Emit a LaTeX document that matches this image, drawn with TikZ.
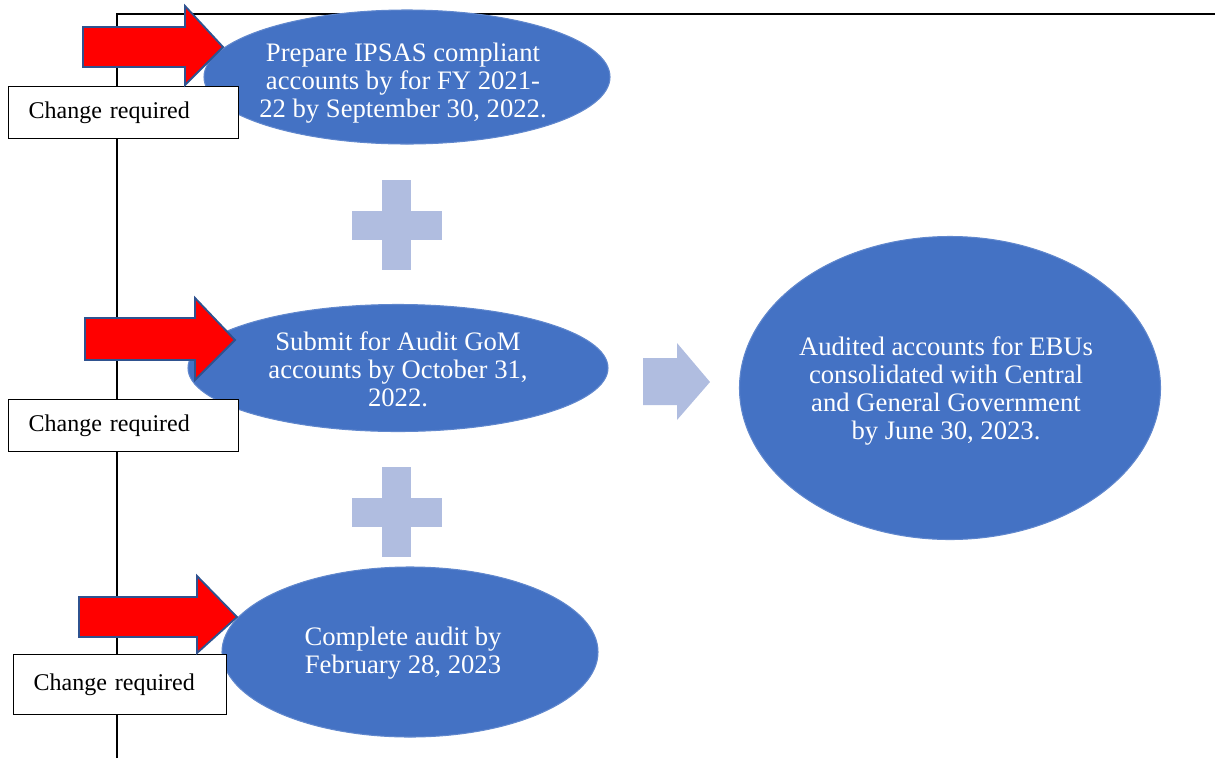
\documentclass[tikz,border=0pt]{standalone}
\usepackage{fontspec}
\setmainfont{Liberation Serif}
\definecolor{ovalblue}{RGB}{68,114,196}
\definecolor{paleblue}{RGB}{176,189,224}
\definecolor{arrowedge}{RGB}{47,82,143}
\tikzset{
  oval/.style={ellipse, fill=ovalblue, draw=ovalblue!85!white, line width=0.8pt, inner sep=0pt},
  ovaltext/.style={text=white, align=center, font=\fontsize{20}{21}\selectfont},
  notebox/.style={draw=black, line width=0.9pt, fill=white, minimum height=52*0.75pt,
    inner xsep=15pt, align=left, font=\fontsize{18}{20}\selectfont, anchor=north west},
  redarrow/.style={fill=red, draw=arrowedge, line width=1.4pt, line join=miter},
  plusmark/.style={fill=paleblue, draw=none},
  spine/.style={draw=black, line width=1.2pt}
}
\usetikzlibrary{shapes.geometric}
\begin{document}
\begin{tikzpicture}[x=0.75pt, y=-0.75pt]
\useasboundingbox (0,0) rectangle (1215,758);

% frame lines
\coordinate (topL) at (117,14);
\coordinate (topR) at (1215,14);
\coordinate (botL) at (117,758);
\draw[spine] (botL) -- (topL) -- (topR);

% ovals
\node[oval, minimum width=406*0.75pt, minimum height=134*0.75pt] (o1) at (407,77) {};
\node[ovaltext] at (403,83) {Prepare IPSAS compliant\\accounts by for FY 2021-\\22 by September 30, 2022.};
\node[oval, minimum width=420*0.75pt, minimum height=127*0.75pt] (o2) at (398,368) {};
\node[ovaltext] at (398,369) {Submit for Audit GoM\\accounts by October 31,\\2022.};
\node[oval, minimum width=376*0.75pt, minimum height=170*0.75pt] (o3) at (410,652) {};
\node[ovaltext] at (403,653) {Complete audit by\\February 28, 2023};
\node[oval, minimum width=421*0.75pt, minimum height=303*0.75pt] (o4) at (950,388) {};
\node[ovaltext] at (946,391) {Audited accounts for EBUs\\consolidated with Central\\and General Government\\by June 30, 2023.};

% plus signs
\foreach \cy in {225,512} {
  \fill[plusmark] (382,\cy-45) rectangle (411,\cy+45);
  \fill[plusmark] (352,\cy-14) rectangle (442,\cy+15);
}

% pale block arrow towards the result
\fill[plusmark] (643,358) -- (677,358) -- (677,343) -- (710,382) -- (677,420) -- (677,405) -- (643,405) -- cycle;

% change boxes
\node[notebox, minimum width=229*0.75pt, text width=190*0.75pt] (b1) at (8,86) {Change required};
\node[notebox, minimum width=229*0.75pt, text width=190*0.75pt] (b2) at (8,399) {Change required};
\node[notebox, minimum width=212*0.75pt, text width=173*0.75pt, minimum height=60*0.75pt] (b3) at (13,654) {Change required};

% red block arrows
\draw[redarrow] (83,27) -- (185,27) -- (185,6) -- (223,47) -- (185,85) -- (185,67) -- (83,67) -- cycle;
\draw[redarrow] (85,318) -- (195,318) -- (195,298) -- (235,340) -- (195,380) -- (195,360) -- (85,360) -- cycle;
\draw[redarrow] (79,597) -- (197,597) -- (197,576) -- (237,617) -- (197,653) -- (197,637) -- (79,637) -- cycle;
\end{tikzpicture}
\end{document}
